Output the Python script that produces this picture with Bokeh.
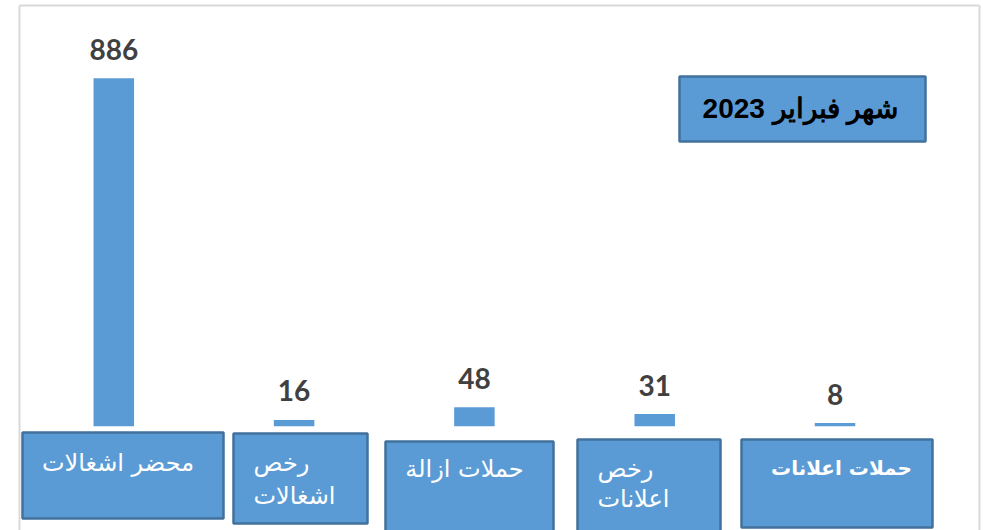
from bokeh.plotting import figure
from bokeh.models import Range1d, ColumnDataSource
from bokeh.core.properties import value
from bokeh.embed import file_html
from bokeh.resources import INLINE

# ---- data ----
categories = ["محضر اشغالات", "رخص اشغالات", "حملات ازالة", "رخص اعلانات", "حملات اعلانات"]
values = [886, 16, 48, 31, 8]
label_lines = [["محضر اشغالات"], ["رخص", "اشغالات"], ["حملات ازالة"], ["رخص", "اعلانات"], ["حملات اعلانات"]]
title_text = "شهر فبراير 2023"

# ---- layout (page pixels) ----
OFF = 0
W, H = 983, 530
PX_PER_CAT = 180.3
FIRST_CX = 113.3
BASE_Y = 425.7
TALL_PX = 348.0
px_per_unit = TALL_PX / max(values)

x0 = -(FIRST_CX - OFF) / PX_PER_CAT
x1 = x0 + W / PX_PER_CAT
y1 = (BASE_Y - OFF) / px_per_unit
y0 = y1 - H / px_per_unit


def dx(px):
    return x0 + (px - OFF) / PX_PER_CAT


def dy(py):
    return y1 - (py - OFF) / px_per_unit


p = figure(width=W, height=H, x_range=Range1d(x0, x1), y_range=Range1d(y0, y1),
           output_backend="svg", toolbar_location=None, min_border=0,
           x_axis_type=None, y_axis_type=None)
p.grid.visible = False
p.outline_line_color = None
p.background_fill_color = "white"
p.border_fill_color = "white"

BLUE = "#5B9BD5"
DARK = "#41719C"

# outer chart frame
p.segment(x0=[dx(19), dx(19), dx(979)], y0=[dy(5), dy(5), dy(5)],
          x1=[dx(979), dx(19), dx(979)], y1=[dy(5), dy(600), dy(600)],
          line_color="#D9D9D9", line_width=2)

# bars
idx = list(range(len(values)))
src = ColumnDataSource(dict(x=idx, top=values, lab=[str(v) for v in values]))
p.vbar(x="x", top="top", bottom=0, width=40.5 / PX_PER_CAT, source=src,
       fill_color=BLUE, line_color=None)
p.text(x="x", y="top", text="lab", source=src, y_offset=-29,
       text_align="center", text_baseline="alphabetic",
       text_font=value("Lato"), text_font_style="bold", text_font_size="28px",
       text_color="#404040")

# category label boxes (page pixel positions)
boxes = [(22, 223, 432, 518), (233, 367, 433, 523), (385, 553, 441, 560),
         (577, 720, 439, 560), (741, 932, 439, 527)]
p.quad(left=[dx(b[0]) for b in boxes], right=[dx(b[1]) for b in boxes],
       top=[dy(b[2]) for b in boxes], bottom=[dy(b[3]) for b in boxes],
       fill_color=BLUE, line_color=DARK, line_width=2.5)

# text positions inside boxes: (x, align, [y per line], size)
text_pos = [(117.5, "center", [462], "24px"), (253, "left", [462, 495], "24px"),
            (464, "center", [468], "24px"), (597, "left", [468, 498], "24px"),
            (841, "center", [467], "20px")]
for i, (tx, al, ys, fs) in enumerate(text_pos):
    bold = (i == len(text_pos) - 1)
    p.text(x=[dx(tx)] * len(ys), y=[dy(yy) for yy in ys], text=label_lines[i],
           text_align=al, text_baseline="middle",
           text_font=value("DejaVu Sans"),
           text_font_style="bold" if bold else "normal",
           text_font_size=fs, text_color="white")

# title box
p.quad(left=[dx(679)], right=[dx(925)], top=[dy(76)], bottom=[dy(141)],
       fill_color=BLUE, line_color=DARK, line_width=2.5)
p.text(x=[dx(800)], y=[dy(108)], text=[title_text], text_align="center",
       text_baseline="middle", text_font=value("Liberation Sans"),
       text_font_style="bold", text_font_size="28px", text_color="black")

open("out.html", "w").write(file_html(p, INLINE))
